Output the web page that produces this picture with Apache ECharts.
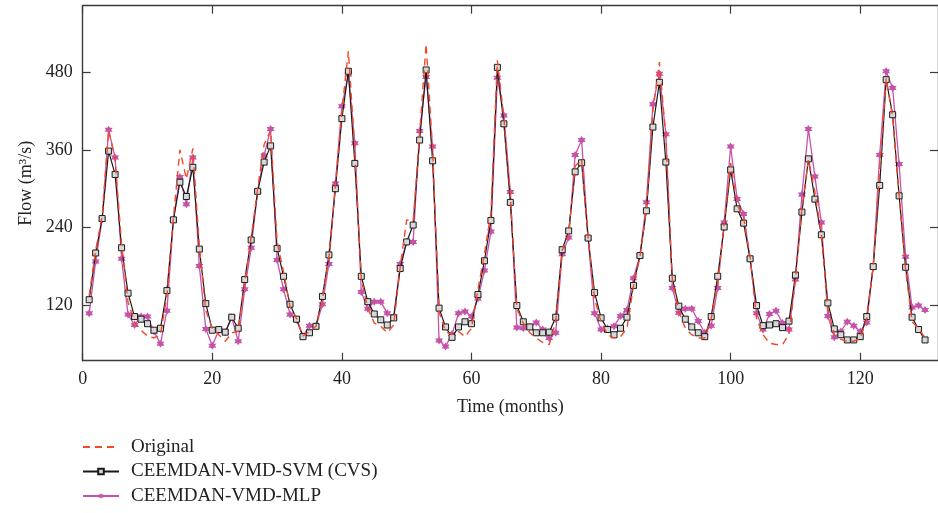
<html>
<head>
    <meta http-equiv='Content-Type' content='text/html; charset=utf-8'/>
    <title>Flow prediction</title>
    <style>
        body { margin: 0; padding: 0; background: #fff; }
        #main { width: 938px; height: 513px; }
    </style>
    <script src="https://cdn.jsdelivr.net/npm/echarts@6/dist/echarts.min.js"></script>
</head>
<body>
<div id="main"></div>
<script type="text/javascript">
    // monthly flow, months 1..130
    let original = [135, 205, 258, 390, 345, 215, 125, 95, 82, 73, 70, 75, 135, 255, 360, 315, 362, 210, 112, 85,
        75, 65, 78, 80, 155, 225, 300, 368, 390, 218, 172, 118, 100, 73, 80, 88, 130, 195, 305, 420,
        512, 360, 160, 115, 93, 88, 78, 90, 180, 252, 250, 385, 523, 360, 110, 80, 75, 80, 72, 85,
        145, 200, 262, 498, 410, 290, 115, 93, 78, 70, 63, 60, 95, 205, 230, 335, 345, 225, 130, 95,
        75, 70, 72, 85, 150, 195, 270, 420, 495, 380, 160, 110, 85, 75, 70, 70, 100, 155, 245, 340,
        275, 255, 195, 100, 75, 62, 60, 60, 75, 160, 270, 345, 295, 230, 115, 75, 68, 65, 65, 70,
        100, 180, 330, 470, 410, 290, 175, 95, 85, 70];
    let cvs = [129, 201, 254, 358, 322, 209, 139, 103, 99, 92, 82, 85, 143, 252, 310, 288, 333, 207, 123, 82,
        83, 79, 102, 85, 160, 221, 296, 341, 366, 208, 165, 122, 99, 72, 78, 88, 134, 198, 300, 408,
        481, 339, 165, 126, 107, 98, 90, 101, 177, 218, 244, 375, 483, 343, 116, 87, 71, 87, 95, 92,
        137, 189, 251, 487, 400, 279, 120, 95, 87, 78, 78, 79, 102, 206, 235, 326, 340, 224, 140, 101,
        83, 75, 85, 102, 151, 197, 266, 395, 464, 341, 162, 119, 99, 87, 78, 72, 103, 165, 241, 329,
        269, 247, 192, 120, 89, 90, 92, 86, 96, 167, 264, 346, 284, 229, 124, 84, 75, 67, 67, 72,
        103, 180, 305, 468, 414, 289, 179, 102, 83, 67];
    let mlp = [108, 188, 253, 391, 348, 192, 106, 90, 103, 103, 80, 61, 112, 252, 318, 276, 348, 181, 84, 58,
        82, 79, 102, 65, 145, 209, 296, 351, 392, 190, 145, 106, 98, 73, 89, 88, 122, 184, 308, 427,
        476, 370, 141, 115, 126, 126, 108, 103, 184, 218, 218, 389, 472, 365, 66, 57, 76, 108, 111, 103,
        131, 174, 234, 471, 413, 295, 86, 85, 87, 94, 83, 70, 78, 199, 225, 352, 375, 224, 108, 83,
        85, 88, 104, 113, 162, 197, 279, 430, 477, 384, 147, 109, 115, 115, 96, 78, 89, 147, 248, 365,
        284, 261, 192, 108, 83, 107, 112, 93, 83, 160, 291, 392, 319, 248, 104, 71, 80, 95, 89, 80,
        94, 180, 352, 481, 455, 338, 195, 117, 120, 113];

    let xTicks = [0, 20, 40, 60, 80, 100, 120];
    let yTicks = [120, 240, 360, 480];

    let pairs = arr => arr.map((v, i) => [i + 1, v]);

    const font = '"Liberation Serif", "DejaVu Serif", serif';
    const axisColor = '#3a3a3a';
    const star = 'path://M0,-10L2.9,-5L8.7,-5L5.8,0L8.7,5L2.9,5L0,10L-2.9,5L-8.7,5L-5.8,0L-8.7,-5L-2.9,-5Z';

    let myChart = echarts.init(document.getElementById('main'));

    let frameX = (pos, labels) => ({
        type: 'value',
        position: pos,
        min: 0,
        max: 132,
        name: labels ? 'Time (months)' : '',
        nameLocation: 'middle',
        nameGap: 38,
        nameTextStyle: { fontFamily: font, fontSize: 18, color: '#222' },
        axisLine: { show: true, onZero: false, lineStyle: { color: axisColor, width: 1.4 } },
        axisTick: { show: true, inside: true, length: 8, customValues: xTicks, lineStyle: { color: axisColor, width: 1.2 } },
        axisLabel: { show: labels, customValues: xTicks, margin: 10, fontFamily: font, fontSize: 18, color: '#222' },
        splitLine: { show: false }
    });

    let frameY = (pos, labels) => ({
        type: 'value',
        position: pos,
        min: 35,
        max: 582,
        name: labels ? 'Flow (m³/s)' : '',
        nameLocation: 'middle',
        nameGap: 46,
        nameTextStyle: { fontFamily: font, fontSize: 18, color: '#222' },
        axisLine: { show: true, onZero: false, lineStyle: { color: axisColor, width: 1.4 } },
        axisTick: { show: true, inside: true, length: 8, customValues: yTicks, lineStyle: { color: axisColor, width: 1.2 } },
        axisLabel: { show: labels, customValues: yTicks, margin: 10, fontFamily: font, fontSize: 18, color: '#222' },
        splitLine: { show: false }
    });

    let option = {
        animation: false,
        backgroundColor: '#fff',
        grid: { left: 82.7, right: -2.7, top: 5.7, bottom: 152.3 },
        legend: {
            orient: 'vertical',
            left: 82,
            top: 437,
            padding: 0,
            height: 76,
            itemWidth: 36,
            itemHeight: 7,
            itemGap: 4.5,
            textStyle: { fontFamily: font, fontSize: 19, color: '#222', lineHeight: 20, padding: [0, 0, 0, 7] },
            data: ['Original', 'CEEMDAN-VMD-SVM (CVS)', 'CEEMDAN-VMD-MLP']
        },
        xAxis: [frameX('bottom', true), frameX('top', false)],
        yAxis: [frameY('left', true), frameY('right', false)],
        series: [
            {
                name: 'CEEMDAN-VMD-SVM (CVS)',
                type: 'line',
                data: pairs(cvs),
                symbol: 'rect',
                symbolSize: 6,
                color: '#1a1a1a',
                itemStyle: { color: '#d8d8d8', borderColor: '#1a1a1a', borderWidth: 1 },
                lineStyle: { color: '#1a1a1a', width: 1.2 },
                z: 3
            },
            {
                name: 'CEEMDAN-VMD-MLP',
                type: 'line',
                data: pairs(mlp),
                symbol: star,
                symbolSize: 8,
                color: '#c653a9',
                itemStyle: { color: '#c653a9' },
                lineStyle: { color: '#c653a9', width: 1.3 },
                z: 2
            },
            {
                name: 'Original',
                type: 'line',
                data: pairs(original),
                showSymbol: false,
                symbol: 'circle',
                color: '#f04a28',
                itemStyle: { color: '#f04a28', opacity: 0 },
                lineStyle: { color: '#f04a28', width: 1.4, type: [7, 5] },
                z: 4
            }
        ]
    };

    myChart.setOption(option);
</script>
</body>
</html>
